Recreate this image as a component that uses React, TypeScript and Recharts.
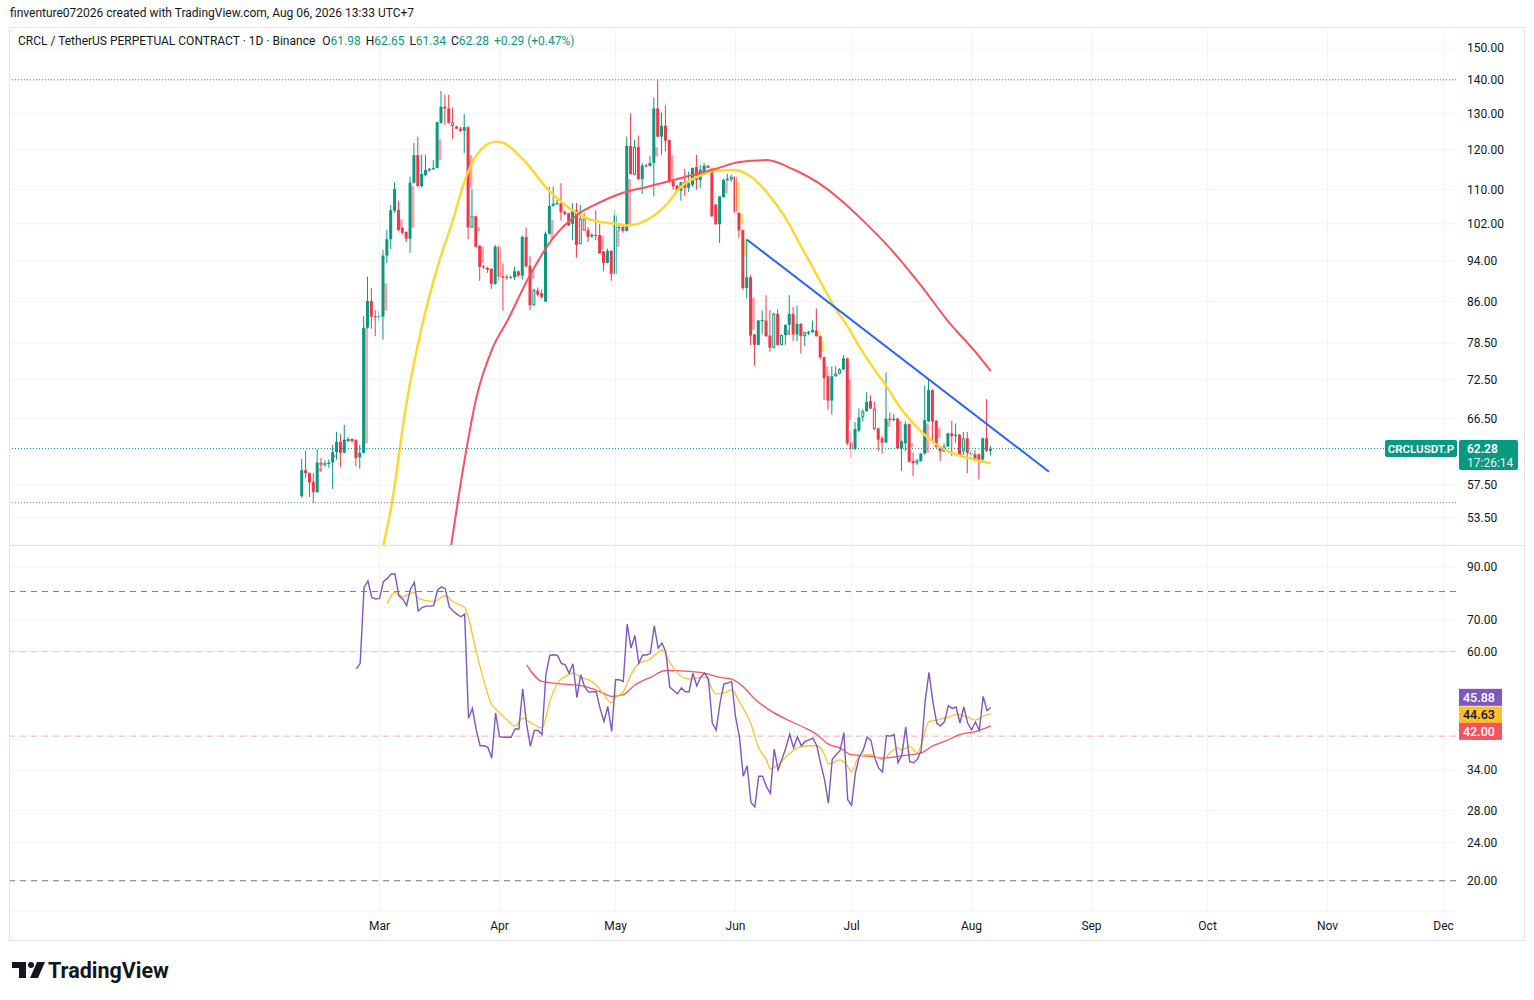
import React from 'react';
import { ComposedChart, Bar, Line, XAxis, YAxis, CartesianGrid, ReferenceLine } from 'recharts';

const FONT = '"Trebuchet MS", Roboto, Ubuntu, sans-serif';
const UP = '#089981';
const DOWN = '#f23645';
const TEXT = '#131722';
const GRID = '#f0f3fa';

// daily candles, index 0 = Feb 9
const opens = [
  56.1, 59.4, 59.0, 57.9, 56.6, 60.4, 60.1, 60.2, 60.4, 61.8,
  63.2, 61.7, 63.3, 63.6, 63.5, 61.1, 61.7, 81.2, 86.1, 83.3,
  83.1, 83.2, 95.1, 98.6, 105.0, 105.1, 101.1, 100.2, 98.7, 111.6,
  118.6, 110.8, 113.5, 114.7, 115.0, 115.3, 127.3, 131.9, 131.4, 127.4,
  126.2, 125.7, 125.1, 126.1, 101.2, 103.7, 97.2, 92.9, 92.6, 92.4,
  89.4, 97.0, 90.9, 90.8, 90.6, 90.7, 91.9, 91.0, 99.1, 93.0,
  85.3, 88.1, 87.6, 86.0, 99.8, 106.1, 106.5, 106.7, 104.7, 104.4,
  102.0, 105.1, 97.6, 103.2, 100.6, 99.2, 99.5, 99.5, 96.0, 93.6,
  96.1, 91.4, 101.0, 101.3, 100.4, 121.0, 113.6, 120.7, 112.5, 116.0,
  115.8, 116.6, 131.4, 123.5, 126.5, 122.6, 112.3, 110.9, 109.7, 111.8,
  110.4, 111.1, 115.5, 112.3, 114.4, 115.9, 115.1, 106.4, 101.9, 108.2,
  112.2, 112.4, 113.1, 104.5, 100.6, 88.6, 90.7, 80.0, 78.2, 82.4,
  82.5, 79.8, 77.7, 83.7, 78.2, 79.9, 81.7, 83.7, 80.0, 81.9,
  79.7, 80.2, 80.4, 80.7, 79.7, 76.1, 73.0, 69.2, 73.0, 73.4,
  74.1, 75.9, 63.1, 62.2, 64.8, 66.7, 67.6, 69.1, 68.0, 65.1,
  63.7, 63.1, 66.5, 66.3, 66.5, 62.3, 63.0, 65.7, 60.6, 60.3,
  60.6, 61.6, 66.1, 70.8, 66.2, 62.5, 61.9, 62.6, 64.4, 64.0,
  64.2, 61.9, 63.7, 61.5, 61.5, 61.5, 60.8, 63.7, 61.98,
];
const highs = [
  60.9, 62.0, 59.1, 59.0, 62.2, 61.0, 60.7, 60.8, 62.8, 64.6,
  64.3, 65.6, 63.9, 63.7, 63.5, 62.8, 83.3, 90.8, 88.6, 84.4,
  84.2, 96.3, 100.6, 106.3, 111.8, 107.3, 101.2, 100.3, 113.1, 121.8,
  123.5, 118.7, 118.7, 115.2, 117.3, 127.6, 136.5, 135.4, 135.4, 131.6,
  126.5, 126.2, 129.8, 126.3, 110.1, 103.8, 97.3, 93.2, 92.8, 92.5,
  97.4, 97.4, 93.5, 91.2, 91.0, 92.8, 92.0, 99.4, 101.2, 95.0,
  88.5, 88.7, 88.3, 100.3, 110.6, 110.7, 107.5, 111.5, 105.1, 104.5,
  106.7, 106.8, 106.3, 104.4, 101.2, 99.9, 105.1, 102.0, 96.1, 96.6,
  96.3, 105.1, 101.7, 101.5, 123.5, 129.9, 122.6, 123.8, 116.6, 116.3,
  118.4, 134.6, 139.9, 130.2, 132.3, 122.7, 112.4, 111.1, 111.9, 115.1,
  114.4, 115.4, 118.6, 116.0, 116.5, 116.0, 115.2, 106.5, 108.4, 112.6,
  113.8, 113.6, 113.2, 104.6, 100.7, 98.7, 91.2, 80.1, 82.6, 84.3,
  87.2, 84.4, 83.9, 84.5, 80.0, 81.8, 87.2, 85.0, 85.2, 82.0,
  80.5, 80.6, 82.5, 84.7, 79.8, 76.2, 73.1, 74.6, 74.6, 74.3,
  76.5, 76.0, 64.5, 66.0, 68.0, 67.9, 70.5, 70.0, 69.0, 65.2,
  64.0, 73.6, 67.4, 67.2, 66.6, 63.4, 66.1, 65.8, 61.7, 60.9,
  61.7, 71.5, 72.4, 70.9, 66.3, 62.6, 63.0, 64.5, 66.2, 65.8,
  64.3, 64.6, 64.6, 62.1, 62.1, 61.6, 63.8, 69.4, 62.65,
];
const lows = [
  55.9, 58.4, 56.0, 55.3, 56.5, 59.2, 59.8, 59.7, 57.0, 60.8,
  59.8, 61.6, 63.2, 63.1, 59.9, 59.6, 61.6, 81.0, 81.0, 79.7,
  82.3, 79.1, 93.6, 96.5, 104.5, 100.3, 99.7, 98.0, 95.7, 111.4,
  110.6, 110.4, 113.2, 114.3, 114.8, 115.2, 127.0, 126.7, 127.1, 122.9,
  125.5, 124.7, 119.1, 98.6, 101.0, 96.8, 90.0, 92.4, 91.6, 88.4,
  89.2, 89.9, 84.3, 90.2, 90.4, 90.2, 90.9, 90.2, 92.7, 84.4,
  85.2, 87.0, 86.5, 85.9, 99.6, 105.9, 106.3, 102.7, 103.9, 101.5,
  98.4, 94.7, 97.5, 100.4, 98.0, 98.9, 98.4, 95.5, 91.9, 93.5,
  90.0, 91.2, 100.3, 100.0, 100.3, 113.6, 113.4, 112.3, 108.9, 115.4,
  115.6, 108.3, 123.3, 118.7, 119.6, 111.5, 109.9, 109.4, 107.3, 108.4,
  109.4, 110.7, 109.9, 110.3, 114.3, 115.2, 103.5, 101.8, 97.8, 108.0,
  112.0, 111.9, 104.4, 98.8, 88.2, 86.6, 78.2, 74.7, 78.1, 80.0,
  79.6, 77.0, 77.6, 78.1, 78.1, 78.2, 79.9, 78.9, 78.8, 76.7,
  78.0, 79.9, 80.3, 79.6, 75.7, 69.3, 67.8, 67.1, 72.9, 73.3,
  74.0, 62.7, 61.0, 62.1, 64.5, 66.1, 67.5, 67.9, 64.9, 61.9,
  61.6, 63.0, 66.1, 66.1, 62.2, 59.3, 61.9, 60.4, 58.6, 60.1,
  60.5, 61.5, 66.0, 63.0, 62.4, 60.6, 61.8, 62.5, 61.3, 63.1,
  61.2, 61.4, 59.0, 60.8, 60.6, 58.2, 60.6, 61.8, 61.34,
];
const closes = [
  59.4, 59.0, 57.8, 56.6, 60.4, 60.0, 60.3, 60.4, 61.8, 63.2,
  61.7, 63.5, 63.6, 63.3, 61.0, 61.7, 81.2, 86.1, 83.2, 83.1,
  83.3, 95.1, 98.6, 105.1, 110.1, 100.6, 100.0, 98.7, 111.6, 118.6,
  110.8, 113.8, 114.8, 115.1, 115.3, 127.5, 131.9, 131.3, 127.3, 126.4,
  125.8, 125.1, 126.1, 101.2, 103.7, 97.0, 92.8, 92.7, 92.2, 89.4,
  97.0, 90.8, 90.6, 90.6, 90.8, 91.9, 91.1, 99.1, 92.9, 85.3,
  88.2, 87.3, 86.9, 99.8, 106.1, 106.6, 106.8, 104.6, 104.4, 101.6,
  105.1, 97.4, 103.2, 100.5, 99.1, 99.6, 99.3, 95.6, 93.6, 96.1,
  91.4, 103.9, 101.3, 100.4, 121.0, 113.8, 120.7, 112.5, 115.9, 115.7,
  116.6, 131.4, 123.5, 126.5, 122.4, 111.9, 110.7, 109.7, 111.7, 110.4,
  111.5, 115.3, 112.3, 114.8, 115.9, 115.3, 103.7, 101.9, 108.3, 112.3,
  112.6, 113.1, 104.6, 100.5, 88.6, 90.7, 79.8, 78.2, 82.5, 82.6,
  79.7, 77.7, 83.7, 78.2, 79.9, 81.7, 83.7, 80.0, 81.9, 79.7,
  80.4, 80.5, 80.8, 79.7, 76.1, 72.7, 69.2, 73.0, 73.4, 74.1,
  75.9, 63.0, 62.2, 65.0, 66.7, 67.6, 69.0, 68.0, 65.0, 63.5,
  63.1, 66.5, 66.3, 66.5, 62.3, 63.3, 65.7, 60.5, 60.3, 60.7,
  61.6, 66.3, 70.8, 66.1, 62.5, 61.9, 62.6, 64.4, 64.0, 64.2,
  61.3, 63.7, 61.7, 61.7, 60.7, 60.5, 63.7, 61.99, 62.28,
];
const hollowDays = [5, 37, 39, 40, 44, 60, 65, 68, 72, 73, 86, 105, 111, 122, 124, 130, 138, 139, 145, 148, 159, 166, 171];

// faint offset bars drawn beside some candles
const ghostDays = [4, 8, 16, 21, 25, 28, 35, 43, 45, 46, 55, 59, 64, 77, 81, 84, 91, 95, 109, 112, 113, 114, 116, 125, 133, 134, 135, 141, 151, 154, 157, 161, 164];
const ghostLow = [59.2, 61.1, 63.0, 84.3, 101.0, 101.1, 117.3, 110.3, 100.3, 93.6, 90.8, 90.4, 98.4, 96.3, 96.9, 101.8, 118.2, 112.0, 109.0, 105.1, 101.9, 95.0, 80.8, 79.9, 79.7, 77.0, 73.0, 66.3, 65.3, 63.3, 62.5, 61.7, 63.7];
const ghostHigh = [59.7, 61.4, 81.1, 89.5, 103.0, 110.8, 122.8, 118.6, 101.2, 97.0, 91.2, 92.2, 102.9, 99.3, 100.5, 112.5, 120.7, 118.6, 111.9, 111.9, 104.3, 98.4, 86.7, 80.8, 80.5, 78.9, 74.6, 72.4, 66.2, 66.2, 63.0, 65.8, 65.2];
const yellowGhostDays = [112, 113, 114, 133, 134];

const fastMaDays = [20, 23, 27, 31, 35, 39, 42, 45, 50, 52, 57, 64, 70, 75, 82, 84, 89, 94, 98, 102, 107, 112, 116, 120, 125, 129, 133, 138, 141, 144, 148, 151, 154, 159, 163, 167, 172, 176, 178];
const fastMaValues = [48.6, 54.7, 68.9, 81.5, 92.8, 102.9, 112.0, 118.5, 122.1, 121.8, 117.6, 109.5, 105.0, 102.8, 101.9, 101.6, 102.8, 106.2, 110.7, 113.0, 114.6, 114.8, 113.1, 109.4, 103.2, 97.0, 91.2, 84.5, 81.4, 77.9, 74.0, 71.4, 68.6, 65.2, 63.2, 61.9, 61.0, 60.5, 60.3];
const slowMaDays = [38, 42, 45, 49, 53, 59, 65, 71, 76, 82, 89, 98, 107, 113, 120, 127, 134, 140, 144, 152, 160, 167, 174, 178];
const slowMaValues = [48.9, 60.8, 69.6, 77.3, 82.4, 91.3, 99.0, 104.0, 106.5, 108.9, 110.6, 112.8, 115.1, 116.8, 117.3, 114.9, 111.2, 106.8, 103.5, 96.6, 89.0, 82.3, 77.0, 73.8];
const trendDays = [115, 193];
const trendValues = [98.5, 59.2];

const rsiStart = 14;
const rsiValues = [
  55.2, 56.7, 81.5, 84.2, 77.8, 77.2,
  77.4, 83.9, 85.2, 87.0, 87.0, 78.4, 77.2, 74.8, 81.0, 83.6,
  72.9, 74.1, 74.6, 74.6, 74.8, 80.6, 81.8, 81.0, 74.4, 72.9,
  71.8, 70.9, 71.8, 43.6, 45.7, 41.2, 38.2, 38.2, 37.9, 36.0,
  44.7, 39.9, 39.8, 39.8, 39.8, 41.4, 41.4, 50.2, 42.4, 38.1,
  41.1, 41.1, 40.3, 53.7, 58.9, 59.1, 58.9, 56.7, 56.3, 54.1,
  56.6, 48.1, 53.7, 50.7, 49.4, 49.5, 49.5, 45.7, 42.9, 46.1,
  40.9, 52.4, 52.4, 52.0, 68.4, 61.0, 64.8, 56.7, 59.0, 59.0,
  59.5, 67.9, 61.0, 62.5, 59.8, 50.6, 49.8, 49.0, 50.4, 49.5,
  49.5, 54.1, 50.9, 53.1, 54.1, 52.6, 42.6, 41.2, 46.9, 51.4,
  51.6, 52.0, 43.9, 39.9, 33.0, 34.7, 29.1, 28.5, 33.0, 33.0,
  31.4, 30.4, 37.6, 34.0, 35.8, 37.8, 40.4, 37.8, 39.9, 38.2,
  39.0, 39.3, 39.6, 38.2, 35.1, 32.5, 29.0, 35.8, 36.6, 37.3,
  40.7, 29.5, 28.7, 33.6, 36.2, 37.4, 39.8, 39.2, 36.0, 34.3,
  33.7, 40.1, 40.0, 40.3, 35.2, 36.6, 41.8, 35.4, 35.2, 35.8,
  37.4, 47.2, 54.3, 47.2, 42.6, 42.0, 42.9, 46.3, 45.7, 46.0,
  42.6, 46.0, 42.6, 41.2, 42.8, 41.1, 48.4, 45.2, 45.88,
];
const rsiFastDays = [22, 24, 26, 29, 30, 34, 37, 39, 42, 45, 47, 49, 50, 53, 55, 57, 59, 62, 64, 66, 68, 70, 72, 74, 76, 78, 80, 81, 83, 85, 87, 90, 92, 93, 95, 97, 100, 102, 104, 107, 109, 111, 113, 116, 118, 120, 121, 123, 126, 128, 131, 133, 135, 136, 139, 141, 142, 144, 147, 150, 152, 154, 155, 157, 159, 160, 162, 164, 167, 169, 172, 174, 176, 178];
const rsiFastValues = [75.6, 79.7, 78.1, 79.7, 77.4, 76.2, 78.4, 76.2, 74.1, 60.0, 52.0, 46.5, 45.6, 43.2, 42.0, 43.6, 42.7, 41.6, 47.2, 51.6, 53.2, 54.1, 53.0, 52.4, 51.1, 48.8, 46.9, 48.1, 49.5, 53.7, 56.7, 57.9, 59.8, 60.5, 57.0, 54.1, 52.6, 52.8, 53.1, 49.0, 49.2, 49.9, 47.2, 42.4, 37.8, 35.7, 34.2, 34.9, 36.8, 37.8, 38.2, 38.2, 36.6, 35.0, 35.7, 34.6, 33.7, 36.4, 36.6, 35.7, 37.0, 37.8, 37.4, 38.1, 36.9, 38.5, 42.9, 43.2, 43.8, 44.4, 43.8, 43.2, 44.0, 44.63];
const rsiSlowDays = [58, 62, 67, 73, 77, 80, 83, 86, 90, 94, 98, 104, 108, 111, 114, 117, 121, 125, 130, 133, 136, 139, 142, 147, 150, 155, 160, 163, 166, 170, 174, 178];
const rsiSlowValues = [56.3, 52.0, 51.4, 50.8, 49.5, 48.4, 48.8, 51.1, 53.0, 54.8, 54.7, 54.1, 53.0, 52.6, 50.7, 47.8, 45.2, 43.4, 41.6, 40.3, 38.5, 37.8, 36.6, 36.3, 36.0, 36.4, 36.9, 38.2, 39.0, 40.3, 40.9, 42.0];

const monthDays = [20, 51, 81, 112, 142, 173, 204, 234, 265, 295];
const monthLabels = ['Mar', 'Apr', 'May', 'Jun', 'Jul', 'Aug', 'Sep', 'Oct', 'Nov', 'Dec'];
const priceTicks = [150, 140, 130, 120, 110, 102, 94, 86, 78.5, 72.5, 66.5, 57.5, 53.5];
const rsiTicks = [90, 70, 60, 40, 34, 28, 24, 20];

const X_DOMAIN: [number, number] = [-75.5, 298.2];
const PRICE_DOMAIN: [number, number] = [50.4, 157.1];
const RSI_DOMAIN: [number, number] = [17.3, 100];

const rows: any[] = opens.map((o, i) => ({
  i,
  hl: [lows[i], highs[i]],
  o,
  h: highs[i],
  l: lows[i],
  c: closes[i],
  hollow: hollowDays.includes(i),
  rsi: i >= rsiStart ? rsiValues[i - rsiStart] : null,
}));
ghostDays.forEach((d, k) => {
  rows[d].gLow = ghostLow[k];
  rows[d].gHigh = ghostHigh[k];
  rows[d].gYellow = yellowGhostDays.includes(d);
});
const rowAt = (d: number) => {
  let r = rows.find((x) => x.i === d);
  if (!r) {
    r = { i: d };
    rows.push(r);
  }
  return r;
};
fastMaDays.forEach((d, k) => (rowAt(d).maFast = fastMaValues[k]));
slowMaDays.forEach((d, k) => (rowAt(d).maSlow = slowMaValues[k]));
trendDays.forEach((d, k) => (rowAt(d).trend = trendValues[k]));
rsiFastDays.forEach((d, k) => (rowAt(d).rsiFast = rsiFastValues[k]));
rsiSlowDays.forEach((d, k) => (rowAt(d).rsiSlow = rsiSlowValues[k]));

const last = opens.length - 1;
const change = closes[last] - closes[last - 1];
const changePct = (change / closes[last - 1]) * 100;
const rangeHigh = Math.max(...highs);
const rangeLow = Math.min(...lows);

function Candle(props: any) {
  const { x, y, width, height, payload } = props;
  if (!payload || payload.h == null) return <g />;
  const top = Math.min(y, y + height);
  const bottom = Math.max(y, y + height);
  const span = Math.log(payload.h) - Math.log(payload.l) || 1;
  // position inside the bar the library placed, on the same log scale
  const py = (p: number) => top + ((bottom - top) * (Math.log(payload.h) - Math.log(p))) / span;
  const color = payload.c >= payload.o ? UP : DOWN;
  const cx = x + width / 2;
  const bTop = py(Math.max(payload.o, payload.c));
  const bH = Math.max(1, py(Math.min(payload.o, payload.c)) - bTop);
  return (
    <g>
      {payload.gHigh != null && (
        <rect
          x={x + width * 0.93}
          y={py(payload.gHigh)}
          width={width}
          height={Math.max(1, py(payload.gLow) - py(payload.gHigh))}
          fill={payload.gYellow ? 'rgba(255,226,60,0.8)' : 'rgba(242,54,69,0.45)'}
        />
      )}
      <line x1={cx} x2={cx} y1={top} y2={bottom} stroke={color} strokeWidth={1} />
      {payload.hollow ? (
        <rect x={x + 0.5} y={bTop + 0.5} width={width - 1} height={Math.max(1, bH - 1)} fill="#fff" stroke={color} strokeWidth={1} />
      ) : (
        <rect x={x} y={bTop} width={width} height={bH} fill={color} />
      )}
    </g>
  );
}

function LastPriceTag(props: any) {
  const { viewBox, price } = props;
  if (!viewBox) return null;
  const right = viewBox.x + viewBox.width;
  const y = viewBox.y;
  return (
    <g fontFamily={FONT}>
      <rect x={right - 71} y={y - 8.5} width={72} height={17} rx={2} fill={UP} />
      <text x={right - 35} y={y + 4} textAnchor="middle" fill="#fff" fontSize={11.5} fontWeight={600}>
        CRCLUSDT.P
      </text>
      <rect x={right + 3} y={y - 8.5} width={59} height={30} rx={2} fill={UP} />
      <text x={right + 11} y={y + 4.5} fill="#fff" fontSize={12} fontWeight={600}>
        {price.toFixed(2)}
      </text>
      <text x={right + 11} y={y + 18.5} fill="#e6f6f2" fontSize={12}>
        17:26:14
      </text>
    </g>
  );
}

function ValueTag(props: any) {
  const { viewBox, value, color, textColor, shift } = props;
  if (!viewBox) return null;
  const right = viewBox.x + viewBox.width;
  const cy = viewBox.y + shift;
  return (
    <g fontFamily={FONT}>
      <rect x={right + 3} y={cy - 8.5} width={43} height={17} fill={color} />
      <text x={right + 7} y={cy + 4.5} fill={textColor} fontSize={12.5} fontWeight={500}>
        {value.toFixed(2)}
      </text>
    </g>
  );
}

const tickStyle = { fill: TEXT, fontSize: 12, fontFamily: FONT };

function PricePane() {
  return (
    <ComposedChart width={1534} height={545} data={rows} margin={{ top: 27, right: 0, bottom: 0, left: 10 }}>
      <CartesianGrid vertical={false} stroke={GRID} />
      <XAxis type="number" dataKey="i" domain={X_DOMAIN} allowDataOverflow hide />
      <YAxis
        orientation="right"
        scale="log"
        domain={PRICE_DOMAIN}
        allowDataOverflow
        ticks={priceTicks}
        interval={0}
        width={78}
        tickSize={0}
        tickMargin={11}
        axisLine={false}
        tickLine={false}
        tick={tickStyle}
        tickFormatter={(v: number) => v.toFixed(2)}
      />
      {monthDays.map((d) => (
        <ReferenceLine key={d} x={d} stroke={GRID} />
      ))}
      <ReferenceLine y={rangeHigh} stroke="#787b86" strokeDasharray="1 2" />
      <ReferenceLine y={rangeLow} stroke="#787b86" strokeDasharray="1 2" />
      <Bar dataKey="hl" barSize={3} shape={(p: any) => <Candle {...p} />} isAnimationActive={false} />
      <Line dataKey="maFast" type="monotone" stroke="#fdd835" strokeWidth={2.5} dot={false} connectNulls isAnimationActive={false} />
      <Line dataKey="maSlow" type="monotone" stroke="#f7525f" strokeWidth={2} dot={false} connectNulls isAnimationActive={false} />
      <Line dataKey="trend" type="linear" stroke="#2962ff" strokeWidth={2} dot={false} connectNulls isAnimationActive={false} />
      <ReferenceLine
        y={closes[last]}
        stroke={UP}
        strokeDasharray="1 2"
        label={<LastPriceTag price={closes[last]} />}
      />
    </ComposedChart>
  );
}

function RsiPane() {
  return (
    <ComposedChart width={1534} height={395} data={rows} margin={{ top: 0, right: 0, bottom: 0, left: 10 }}>
      <CartesianGrid vertical={false} stroke={GRID} />
      <XAxis
        type="number"
        dataKey="i"
        domain={X_DOMAIN}
        allowDataOverflow
        ticks={monthDays}
        interval={0}
        height={29}
        tickSize={0}
        tickMargin={10}
        axisLine={false}
        tickLine={false}
        tick={tickStyle}
        tickFormatter={(v: number) => monthLabels[monthDays.indexOf(v)] ?? ''}
      />
      <YAxis
        orientation="right"
        scale="log"
        domain={RSI_DOMAIN}
        allowDataOverflow
        ticks={rsiTicks}
        interval={0}
        width={78}
        tickSize={0}
        tickMargin={11}
        axisLine={false}
        tickLine={false}
        tick={tickStyle}
        tickFormatter={(v: number) => v.toFixed(2)}
      />
      {monthDays.map((d) => (
        <ReferenceLine key={d} x={d} stroke={GRID} />
      ))}
      <ReferenceLine y={80} stroke="#787b86" strokeDasharray="6 5" />
      <ReferenceLine y={60} stroke="#9fe3c9" strokeDasharray="6 5" />
      <ReferenceLine y={40} stroke="#f6b8bc" strokeDasharray="6 5" />
      <ReferenceLine y={20} stroke="#787b86" strokeDasharray="6 5" />
      <Line dataKey="rsiSlow" type="monotone" stroke="#f7525f" strokeWidth={1.3} dot={false} connectNulls isAnimationActive={false} />
      <Line dataKey="rsiFast" type="monotone" stroke="#fbc02d" strokeWidth={1.3} dot={false} connectNulls isAnimationActive={false} />
      <Line dataKey="rsi" type="linear" stroke="#7e57c2" strokeWidth={1.4} dot={false} connectNulls isAnimationActive={false} />
    </ComposedChart>
  );
}

// same plot area as RsiPane, drawn on top so the value tags cover the axis labels
function RsiTags() {
  return (
    <ComposedChart width={1534} height={395} data={rows} margin={{ top: 0, right: 78, bottom: 29, left: 10 }}>
      <XAxis type="number" dataKey="i" domain={X_DOMAIN} allowDataOverflow hide />
      <YAxis scale="log" domain={RSI_DOMAIN} allowDataOverflow hide />
      <ReferenceLine
        y={rsiValues[rsiValues.length - 1]}
        stroke="none"
        label={<ValueTag value={rsiValues[rsiValues.length - 1]} color="#7e57c2" textColor="#fff" shift={-10.2} />}
      />
      <ReferenceLine
        y={rsiFastValues[rsiFastValues.length - 1]}
        stroke="none"
        label={<ValueTag value={rsiFastValues[rsiFastValues.length - 1]} color="#fbc02d" textColor={TEXT} shift={1.6} />}
      />
      <ReferenceLine
        y={rsiSlowValues[rsiSlowValues.length - 1]}
        stroke="none"
        label={<ValueTag value={rsiSlowValues[rsiSlowValues.length - 1]} color="#f7525f" textColor="#fff" shift={5.4} />}
      />
    </ComposedChart>
  );
}

const green = { color: UP };

export default function App() {
  return (
    <div
      style={{
        position: 'absolute',
        left: 0,
        top: 0,
        width: 1534,
        height: 1000,
        background: '#fff',
        fontFamily: FONT,
        color: TEXT,
        overflow: 'hidden',
      }}
    >
      <div style={{ position: 'absolute', left: 10, top: 6, fontSize: 12, whiteSpace: 'nowrap' }}>
        finventure072026 created with TradingView.com, Aug 06, 2026 13:33 UTC+7
      </div>
      <div style={{ position: 'absolute', left: 9, top: 27, width: 1514, height: 912, border: '1px solid #e0e3eb' }} />
      <div style={{ position: 'absolute', left: 0, top: 0 }}>
        <PricePane />
      </div>
      <div style={{ position: 'absolute', left: 0, top: 545 }}>
        <RsiPane />
      </div>
      <div style={{ position: 'absolute', left: 0, top: 545, pointerEvents: 'none' }}>
        <RsiTags />
      </div>
      <div style={{ position: 'absolute', left: 10, top: 545, width: 1514, height: 1, background: '#e0e3eb' }} />
      <div style={{ position: 'absolute', left: 18, top: 34, fontSize: 12, whiteSpace: 'nowrap' }}>
        CRCL / TetherUS PERPETUAL CONTRACT · 1D · Binance
        <span style={{ marginLeft: 7 }}>O</span>
        <span style={green}>{opens[last].toFixed(2)}</span>
        <span style={{ marginLeft: 5 }}>H</span>
        <span style={green}>{highs[last].toFixed(2)}</span>
        <span style={{ marginLeft: 5 }}>L</span>
        <span style={green}>{lows[last].toFixed(2)}</span>
        <span style={{ marginLeft: 5 }}>C</span>
        <span style={green}>{closes[last].toFixed(2)}</span>
        <span style={{ ...green, marginLeft: 5 }}>
          {change >= 0 ? '+' : ''}
          {change.toFixed(2)} ({change >= 0 ? '+' : ''}
          {changePct.toFixed(2)}%)
        </span>
      </div>
      <svg style={{ position: 'absolute', left: 0, top: 950 }} width={200} height={40}>
        <path d="M12 12 H26 V28 H19 V18 H12 Z" fill={TEXT} />
        <circle cx={31} cy={15} r={3} fill={TEXT} />
        <path d="M37 12 H45 L38 28 H30 Z" fill={TEXT} />
        <text x={48} y={28} fontSize={21.5} fontWeight={700} fill={TEXT} fontFamily={FONT}>
          TradingView
        </text>
      </svg>
    </div>
  );
}
